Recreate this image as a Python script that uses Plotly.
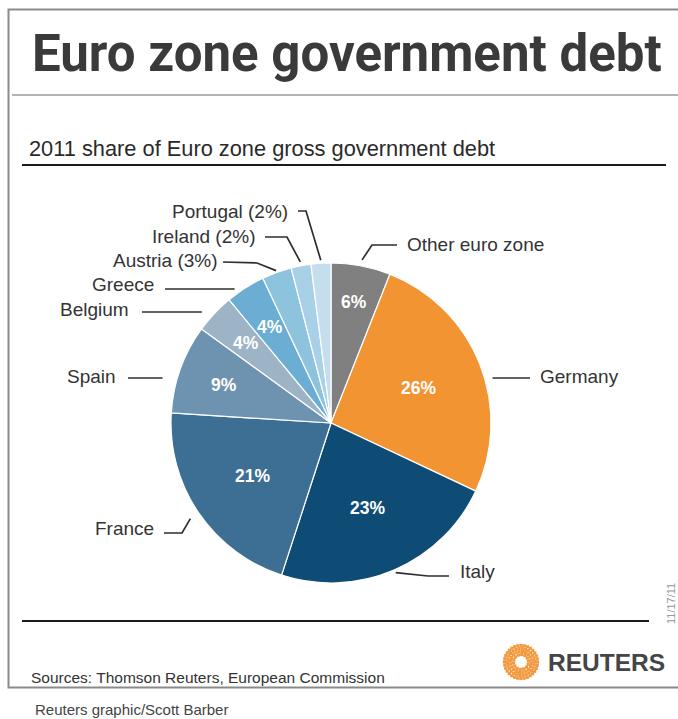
import numpy as np
import plotly.graph_objects as go

# ---------------- data ----------------
countries = ["Other euro zone", "Germany", "Italy", "France", "Spain",
             "Belgium", "Greece", "Austria", "Ireland", "Portugal"]
shares = [6, 26, 23, 21, 9, 4, 4, 3, 2, 2]
outside_labels = ["Other euro zone", "Germany", "Italy", "France", "Spain",
                  "Belgium", "Greece", "Austria (3%)", "Ireland (2%)", "Portugal (2%)"]
show_inside = [True, True, True, True, True, True, True, False, False, False]

# ---------------- styles / layout ----------------
colors = ["#808080", "#f39433", "#0f4c75", "#3d6f94", "#6e93b0",
          "#9db3c6", "#6badd3", "#8ec3de", "#a8d0e6", "#c4deed"]
W, H = 678, 719
CX, CY, R = 331, 423, 160
TXT = "#333333"
FONT = "Liberation Sans, Arial, sans-serif"

# radial position of the inside % labels (fraction of radius)
inside_r = [0.77, 0.59, 0.58, 0.59, 0.71, 0.73, 0.71, 0, 0, 0]

# outside label placement: (x, y, side)
label_pos = [(405, 244, "left"), (538, 376, "left"), (458, 571, "left"),
             (156, 528, "right"), (118, 376, "right"), (131, 309, "right"),
             (156, 284, "right"), (220, 260, "right"), (258, 236, "right"),
             (290, 211, "right")]
# leader geometry: ("bend", start, elbow, radial offset) or ("h", y, x_text_end, gap)
leaders = [("bend", (397, 245), (372, 245), 6),
           ("h", 378, 530, 8),
           ("bend", (449, 576), (428, 576), 3),
           ("bend", (164, 533), (182, 533), 10),
           ("h", 378, 128, 15),
           ("h", 312, 142, 14),
           ("h", 289, 165, 9),
           ("bend", (223, 262), (257, 263), 2),
           ("bend", (265, 237), (287, 237), 4),
           ("bend", (298, 211), (306, 211), 3)]

vals = np.array(shares, dtype=float)
total = vals.sum()
start = np.cumsum(vals) - vals
mid_deg = (start + vals / 2) / total * 360.0


def pt(r, deg):
    a = np.radians(deg)
    return CX + r * np.sin(a), CY - r * np.cos(a)


fig = go.Figure()

fig.add_trace(go.Pie(
    labels=countries, values=shares, sort=False, direction="clockwise",
    rotation=0, marker=dict(colors=colors, line=dict(color="white", width=1.2)),
    textinfo="none", hoverinfo="label+percent", showlegend=False,
    domain=dict(x=[(CX - R) / W, (CX + R) / W],
                y=[1 - (CY + R) / H, 1 - (CY - R) / H]),
))

# Reuters logo (decorative dotted ring)
lx, ly = [], []
for rr in [7.5, 10.5, 13.5, 16.5]:
    n = int(2 * np.pi * rr / 3.2)
    th = np.linspace(0, 2 * np.pi, n, endpoint=False) + rr
    lx += list(521 + rr * np.cos(th))
    ly += list(662 + rr * np.sin(th))
fig.add_trace(go.Scatter(x=lx, y=ly, mode="markers", hoverinfo="skip",
                         marker=dict(size=3.2, color="#f29a3f", symbol="square"),
                         showlegend=False))

shapes = []
annotations = []

# frame and rules
shapes.append(dict(type="rect", x0=8.5, y0=9.5, x1=700, y1=687.5,
                   line=dict(color="#8a8a8a", width=2)))
shapes.append(dict(type="line", x0=12, x1=678, y0=95, y1=95,
                   line=dict(color="#b4b4b4", width=2)))
shapes.append(dict(type="line", x0=22, x1=666, y0=165, y1=165,
                   line=dict(color="#1a1a1a", width=2)))
shapes.append(dict(type="line", x0=22, x1=649, y0=621, y1=621,
                   line=dict(color="#1a1a1a", width=2)))

# leader lines + outside labels
for i, name in enumerate(outside_labels):
    x, y, side = label_pos[i]
    ld = leaders[i]
    if ld[0] == "bend":
        _, s, e, off = ld
        ax, ay = pt(R + off, mid_deg[i])
        path = f"M {s[0]},{s[1]} L {e[0]},{e[1]} L {ax:.1f},{ay:.1f}"
    else:
        _, yy, xt, gap = ld
        dx = np.sqrt(max(R ** 2 - (yy - CY) ** 2, 0))
        xe = CX + dx + gap if xt > CX else CX - dx - gap
        path = f"M {xt},{yy} L {xe:.1f},{yy}"
    shapes.append(dict(type="path", path=path, layer="above",
                       line=dict(color="#2e2e2e", width=1.7)))
    annotations.append(dict(x=x, y=y, text=name, showarrow=False,
                            xanchor="left" if side == "left" else "right",
                            yanchor="middle",
                            font=dict(family=FONT, size=19, color=TXT)))

# inside percentage labels
for i, v in enumerate(shares):
    if not show_inside[i]:
        continue
    x, y = pt(R * inside_r[i], mid_deg[i])
    annotations.append(dict(x=x, y=y, text=f"{v}%", showarrow=False,
                            xanchor="center", yanchor="middle",
                            font=dict(family=FONT, size=17.5, color="white",
                                      weight="bold")))

# titles and credits
annotations.append(dict(x=30, y=53, text="Euro zone government debt",
                        showarrow=False, xanchor="left", yanchor="middle",
                        font=dict(family="Roboto, Liberation Sans, sans-serif",
                                  size=51, color="#3a3a3a", weight="bold")))
annotations.append(dict(x=27, y=148, text="2011 share of Euro zone gross government debt",
                        showarrow=False, xanchor="left", yanchor="middle",
                        font=dict(family=FONT, size=21.8, color="#2a2a2a")))
annotations.append(dict(x=29, y=677, text="Sources: Thomson Reuters, European Commission",
                        showarrow=False, xanchor="left", yanchor="middle",
                        font=dict(family=FONT, size=15.5, color=TXT)))
annotations.append(dict(x=33, y=709, text="Reuters graphic/Scott Barber",
                        showarrow=False, xanchor="left", yanchor="middle",
                        font=dict(family=FONT, size=15, color="#444444")))
annotations.append(dict(x=546, y=662, text="REUTERS", showarrow=False,
                        xanchor="left", yanchor="middle",
                        font=dict(family=FONT, size=24.5, color="#454545", weight="bold")))
annotations.append(dict(x=671, y=604, text="11/17/11", showarrow=False,
                        textangle=-90, xanchor="center", yanchor="middle",
                        font=dict(family=FONT, size=11, color="#999999")))

fig.update_layout(
    width=W, height=H, margin=dict(l=0, r=0, t=0, b=0),
    paper_bgcolor="white", plot_bgcolor="rgba(0,0,0,0)",
    xaxis=dict(range=[0, W], visible=False, fixedrange=True, domain=[0, 1]),
    yaxis=dict(range=[H, 0], visible=False, fixedrange=True, domain=[0, 1]),
    shapes=shapes, annotations=annotations,
)

fig.write_html("out.html", config={"displayModeBar": False},
               post_script="document.body.style.margin='0';document.body.style.padding='0';")
